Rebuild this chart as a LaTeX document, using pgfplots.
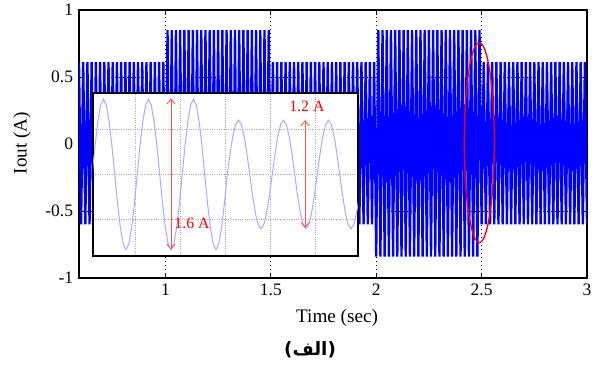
\documentclass[border=0pt]{standalone}
\usepackage{pgfplots}
\pgfplotsset{compat=1.18}
\usepackage{fontspec}
\setmainfont{Liberation Serif}
\newfontfamily\arabicfont[Script=Arabic]{DejaVu Sans}
\newfontfamily\dejavu{DejaVu Sans}
\TeXXeTstate=1
\usetikzlibrary{arrows.meta}
\definecolor{sigblue}{RGB}{0,0,255}
\definecolor{lightsig}{RGB}{170,170,255}
\definecolor{arrred}{RGB}{255,80,80}
\begin{document}
\begin{tikzpicture}
\useasboundingbox (-47.4pt,-52.2pt) rectangle (313.2pt,166.8pt);
\begin{axis}[
  at={(0pt,0pt)}, anchor=south west,
  scale only axis, width=304.8pt, height=160.8pt,
  xmin=0.59, xmax=3, ymin=-1, ymax=1,
  xtick={1,1.5,2,2.5,3}, ytick={-1,-0.5,0,0.5,1},
  tick align=inside, major tick length=3pt,
  grid=major, major grid style={black, dotted, line width=0.5pt},
  axis line style={line width=0.8pt},
  tick style={black, line width=0.5pt},
  /pgf/number format/assume math mode=true,
  tick label style={font=\fontsize{10.5}{12}\selectfont},
  label style={font=\fontsize{11.5}{13}\selectfont},
  xlabel={Time (sec)}, ylabel={Iout (A)},
  xlabel style={at={(axis description cs:0.508,-0.149)}, anchor=center},
  ylabel style={at={(axis description cs:-0.112,0.504)}, anchor=center},
]
\addplot[sigblue, line width=1.4pt] coordinates {
(0.59,0.61)(0.60,-0.6)(0.61,0.61)(0.62,-0.6)(0.63,0.61)(0.64,-0.6)(0.65,0.61)(0.66,-0.6)(0.67,0.61)(0.68,-0.6)
(0.69,0.61)(0.70,-0.6)(0.71,0.61)(0.72,-0.6)(0.73,0.61)(0.74,-0.6)(0.75,0.61)(0.76,-0.6)(0.77,0.61)(0.78,-0.6)
(0.79,0.61)(0.80,-0.6)(0.81,0.61)(0.82,-0.6)(0.83,0.61)(0.84,-0.6)(0.85,0.61)(0.86,-0.6)(0.87,0.61)(0.88,-0.6)
(0.89,0.61)(0.90,-0.6)(0.91,0.61)(0.92,-0.6)(0.93,0.61)(0.94,-0.6)(0.95,0.61)(0.96,-0.6)(0.97,0.61)(0.98,-0.6)
(0.99,0.61)
(1.00,-0.84)(1.01,0.85)(1.02,-0.84)(1.03,0.85)(1.04,-0.84)(1.05,0.85)(1.06,-0.84)(1.07,0.85)(1.08,-0.84)(1.09,0.85)
(1.10,-0.84)(1.11,0.85)(1.12,-0.84)(1.13,0.85)(1.14,-0.84)(1.15,0.85)(1.16,-0.84)(1.17,0.85)(1.18,-0.84)(1.19,0.85)
(1.20,-0.84)(1.21,0.85)(1.22,-0.84)(1.23,0.85)(1.24,-0.84)(1.25,0.85)(1.26,-0.84)(1.27,0.85)(1.28,-0.84)(1.29,0.85)
(1.30,-0.84)(1.31,0.85)(1.32,-0.84)(1.33,0.85)(1.34,-0.84)(1.35,0.85)(1.36,-0.84)(1.37,0.85)(1.38,-0.84)(1.39,0.85)
(1.40,-0.84)(1.41,0.85)(1.42,-0.84)(1.43,0.85)(1.44,-0.84)(1.45,0.85)(1.46,-0.84)(1.47,0.85)(1.48,-0.84)(1.49,0.85)
(1.50,-0.6)(1.51,0.61)(1.52,-0.6)(1.53,0.61)(1.54,-0.6)(1.55,0.61)(1.56,-0.6)(1.57,0.61)(1.58,-0.6)(1.59,0.61)
(1.60,-0.6)(1.61,0.61)(1.62,-0.6)(1.63,0.61)(1.64,-0.6)(1.65,0.61)(1.66,-0.6)(1.67,0.61)(1.68,-0.6)(1.69,0.61)
(1.70,-0.6)(1.71,0.61)(1.72,-0.6)(1.73,0.61)(1.74,-0.6)(1.75,0.61)(1.76,-0.6)(1.77,0.61)(1.78,-0.6)(1.79,0.61)
(1.80,-0.6)(1.81,0.61)(1.82,-0.6)(1.83,0.61)(1.84,-0.6)(1.85,0.61)(1.86,-0.6)(1.87,0.61)(1.88,-0.6)(1.89,0.61)
(1.90,-0.6)(1.91,0.61)(1.92,-0.6)(1.93,0.61)(1.94,-0.6)(1.95,0.61)(1.96,-0.6)(1.97,0.61)(1.98,-0.6)(1.99,0.61)
(2.00,-0.84)(2.01,0.85)(2.02,-0.84)(2.03,0.85)(2.04,-0.84)(2.05,0.85)(2.06,-0.84)(2.07,0.85)(2.08,-0.84)(2.09,0.85)
(2.10,-0.84)(2.11,0.85)(2.12,-0.84)(2.13,0.85)(2.14,-0.84)(2.15,0.85)(2.16,-0.84)(2.17,0.85)(2.18,-0.84)(2.19,0.85)
(2.20,-0.84)(2.21,0.85)(2.22,-0.84)(2.23,0.85)(2.24,-0.84)(2.25,0.85)(2.26,-0.84)(2.27,0.85)(2.28,-0.84)(2.29,0.85)
(2.30,-0.84)(2.31,0.85)(2.32,-0.84)(2.33,0.85)(2.34,-0.84)(2.35,0.85)(2.36,-0.84)(2.37,0.85)(2.38,-0.84)(2.39,0.85)
(2.40,-0.84)(2.41,0.85)(2.42,-0.84)(2.43,0.85)(2.44,-0.84)(2.45,0.85)(2.46,-0.84)(2.47,0.85)(2.48,-0.84)(2.49,0.85)
(2.50,-0.6)(2.51,0.61)(2.52,-0.6)(2.53,0.61)(2.54,-0.6)(2.55,0.61)(2.56,-0.6)(2.57,0.61)(2.58,-0.6)(2.59,0.61)
(2.60,-0.6)(2.61,0.61)(2.62,-0.6)(2.63,0.61)(2.64,-0.6)(2.65,0.61)(2.66,-0.6)(2.67,0.61)(2.68,-0.6)(2.69,0.61)
(2.70,-0.6)(2.71,0.61)(2.72,-0.6)(2.73,0.61)(2.74,-0.6)(2.75,0.61)(2.76,-0.6)(2.77,0.61)(2.78,-0.6)(2.79,0.61)
(2.80,-0.6)(2.81,0.61)(2.82,-0.6)(2.83,0.61)(2.84,-0.6)(2.85,0.61)(2.86,-0.6)(2.87,0.61)(2.88,-0.6)(2.89,0.61)
(2.90,-0.6)(2.91,0.61)(2.92,-0.6)(2.93,0.61)(2.94,-0.6)(2.95,0.61)(2.96,-0.6)(2.97,0.61)(2.98,-0.6)(2.99,0.61)
(3.00,-0.6)
};
\draw[red, line width=0.8pt] (axis cs:2.489,0.01) ellipse [x radius=9pt, y radius=60pt];
\end{axis}
\begin{axis}[
  at={(8.4pt,13.2pt)}, anchor=south west,
  scale only axis, width=159pt, height=97.8pt,
  xmin=0.067, xmax=5.956, ymin=-0.9, ymax=0.9,
  xtick={1,2,3,4,5}, ytick={-0.5,0,0.5},
  xticklabels={}, yticklabels={}, major tick length=0pt,
  grid=major, major grid style={gray!70, densely dotted, line width=0.4pt},
  axis background/.style={fill=white},
  axis line style={line width=0.8pt},
]
\addplot[lightsig, line width=0.6pt] coordinates {
(-0.0125,-0.318)(0.05,0)(0.1125,0.318)(0.175,0.587)(0.2375,0.767)(0.3,0.83)(0.3625,0.767)(0.425,0.587)(0.4875,0.318)(0.55,0)(0.6125,-0.318)(0.675,-0.587)(0.7375,-0.767)(0.8,-0.83)(0.8625,-0.767)(0.925,-0.587)(0.9875,-0.318)
(1.05,0)(1.1125,0.318)(1.175,0.587)(1.2375,0.767)(1.3,0.83)(1.3625,0.767)(1.425,0.587)(1.4875,0.318)(1.55,0)(1.6125,-0.318)(1.675,-0.587)(1.7375,-0.767)(1.8,-0.83)(1.8625,-0.767)(1.925,-0.587)(1.9875,-0.318)
(2.05,0)(2.1125,0.318)(2.175,0.587)(2.2375,0.767)(2.3,0.83)(2.3625,0.767)(2.425,0.587)(2.4875,0.318)(2.55,0)(2.6125,-0.318)(2.675,-0.587)(2.7375,-0.767)(2.8,-0.83)(2.8625,-0.767)(2.925,-0.587)(2.9875,-0.318)
(3.05,0)(3.1125,0.23)(3.175,0.424)(3.2375,0.554)(3.3,0.6)(3.3625,0.554)(3.425,0.424)(3.4875,0.23)(3.55,0)(3.6125,-0.23)(3.675,-0.424)(3.7375,-0.554)(3.8,-0.6)(3.8625,-0.554)(3.925,-0.424)(3.9875,-0.23)
(4.05,0)(4.1125,0.23)(4.175,0.424)(4.2375,0.554)(4.3,0.6)(4.3625,0.554)(4.425,0.424)(4.4875,0.23)(4.55,0)(4.6125,-0.23)(4.675,-0.424)(4.7375,-0.554)(4.8,-0.6)(4.8625,-0.554)(4.925,-0.424)(4.9875,-0.23)
(5.05,0)(5.1125,0.23)(5.175,0.424)(5.2375,0.554)(5.3,0.6)(5.3625,0.554)(5.425,0.424)(5.4875,0.23)(5.55,0)(5.6125,-0.23)(5.675,-0.424)(5.7375,-0.554)(5.8,-0.6)(5.8625,-0.554)(5.925,-0.424)(5.9875,-0.23)
(6.05,0)
};
\draw[arrred, line width=0.5pt, {Straight Barb[length=3pt,width=5pt]}-{Straight Barb[length=3pt,width=5pt]}] (axis cs:1.8,0.84) -- (axis cs:1.8,-0.83);
\draw[arrred, line width=0.5pt, {Straight Barb[length=3pt,width=5pt]}-{Straight Barb[length=3pt,width=5pt]}] (axis cs:4.78,0.6) -- (axis cs:4.78,-0.59);
\node[red, anchor=west, inner sep=0pt, font=\fontsize{9.5}{11}\selectfont] at (axis cs:1.87,-0.535) {1.6 A};
\node[red, anchor=center, inner sep=0pt, font=\fontsize{9.5}{11}\selectfont] at (axis cs:4.82,0.75) {1.2 A};
\end{axis}
\node[anchor=center, inner sep=0pt, font=\fontsize{11}{13}\selectfont] at (138.6pt,-43.2pt) {\dejavu\bfseries(\arabicfont\bfseries\beginR الف\endR\dejavu\bfseries)};
\end{tikzpicture}
\end{document}
